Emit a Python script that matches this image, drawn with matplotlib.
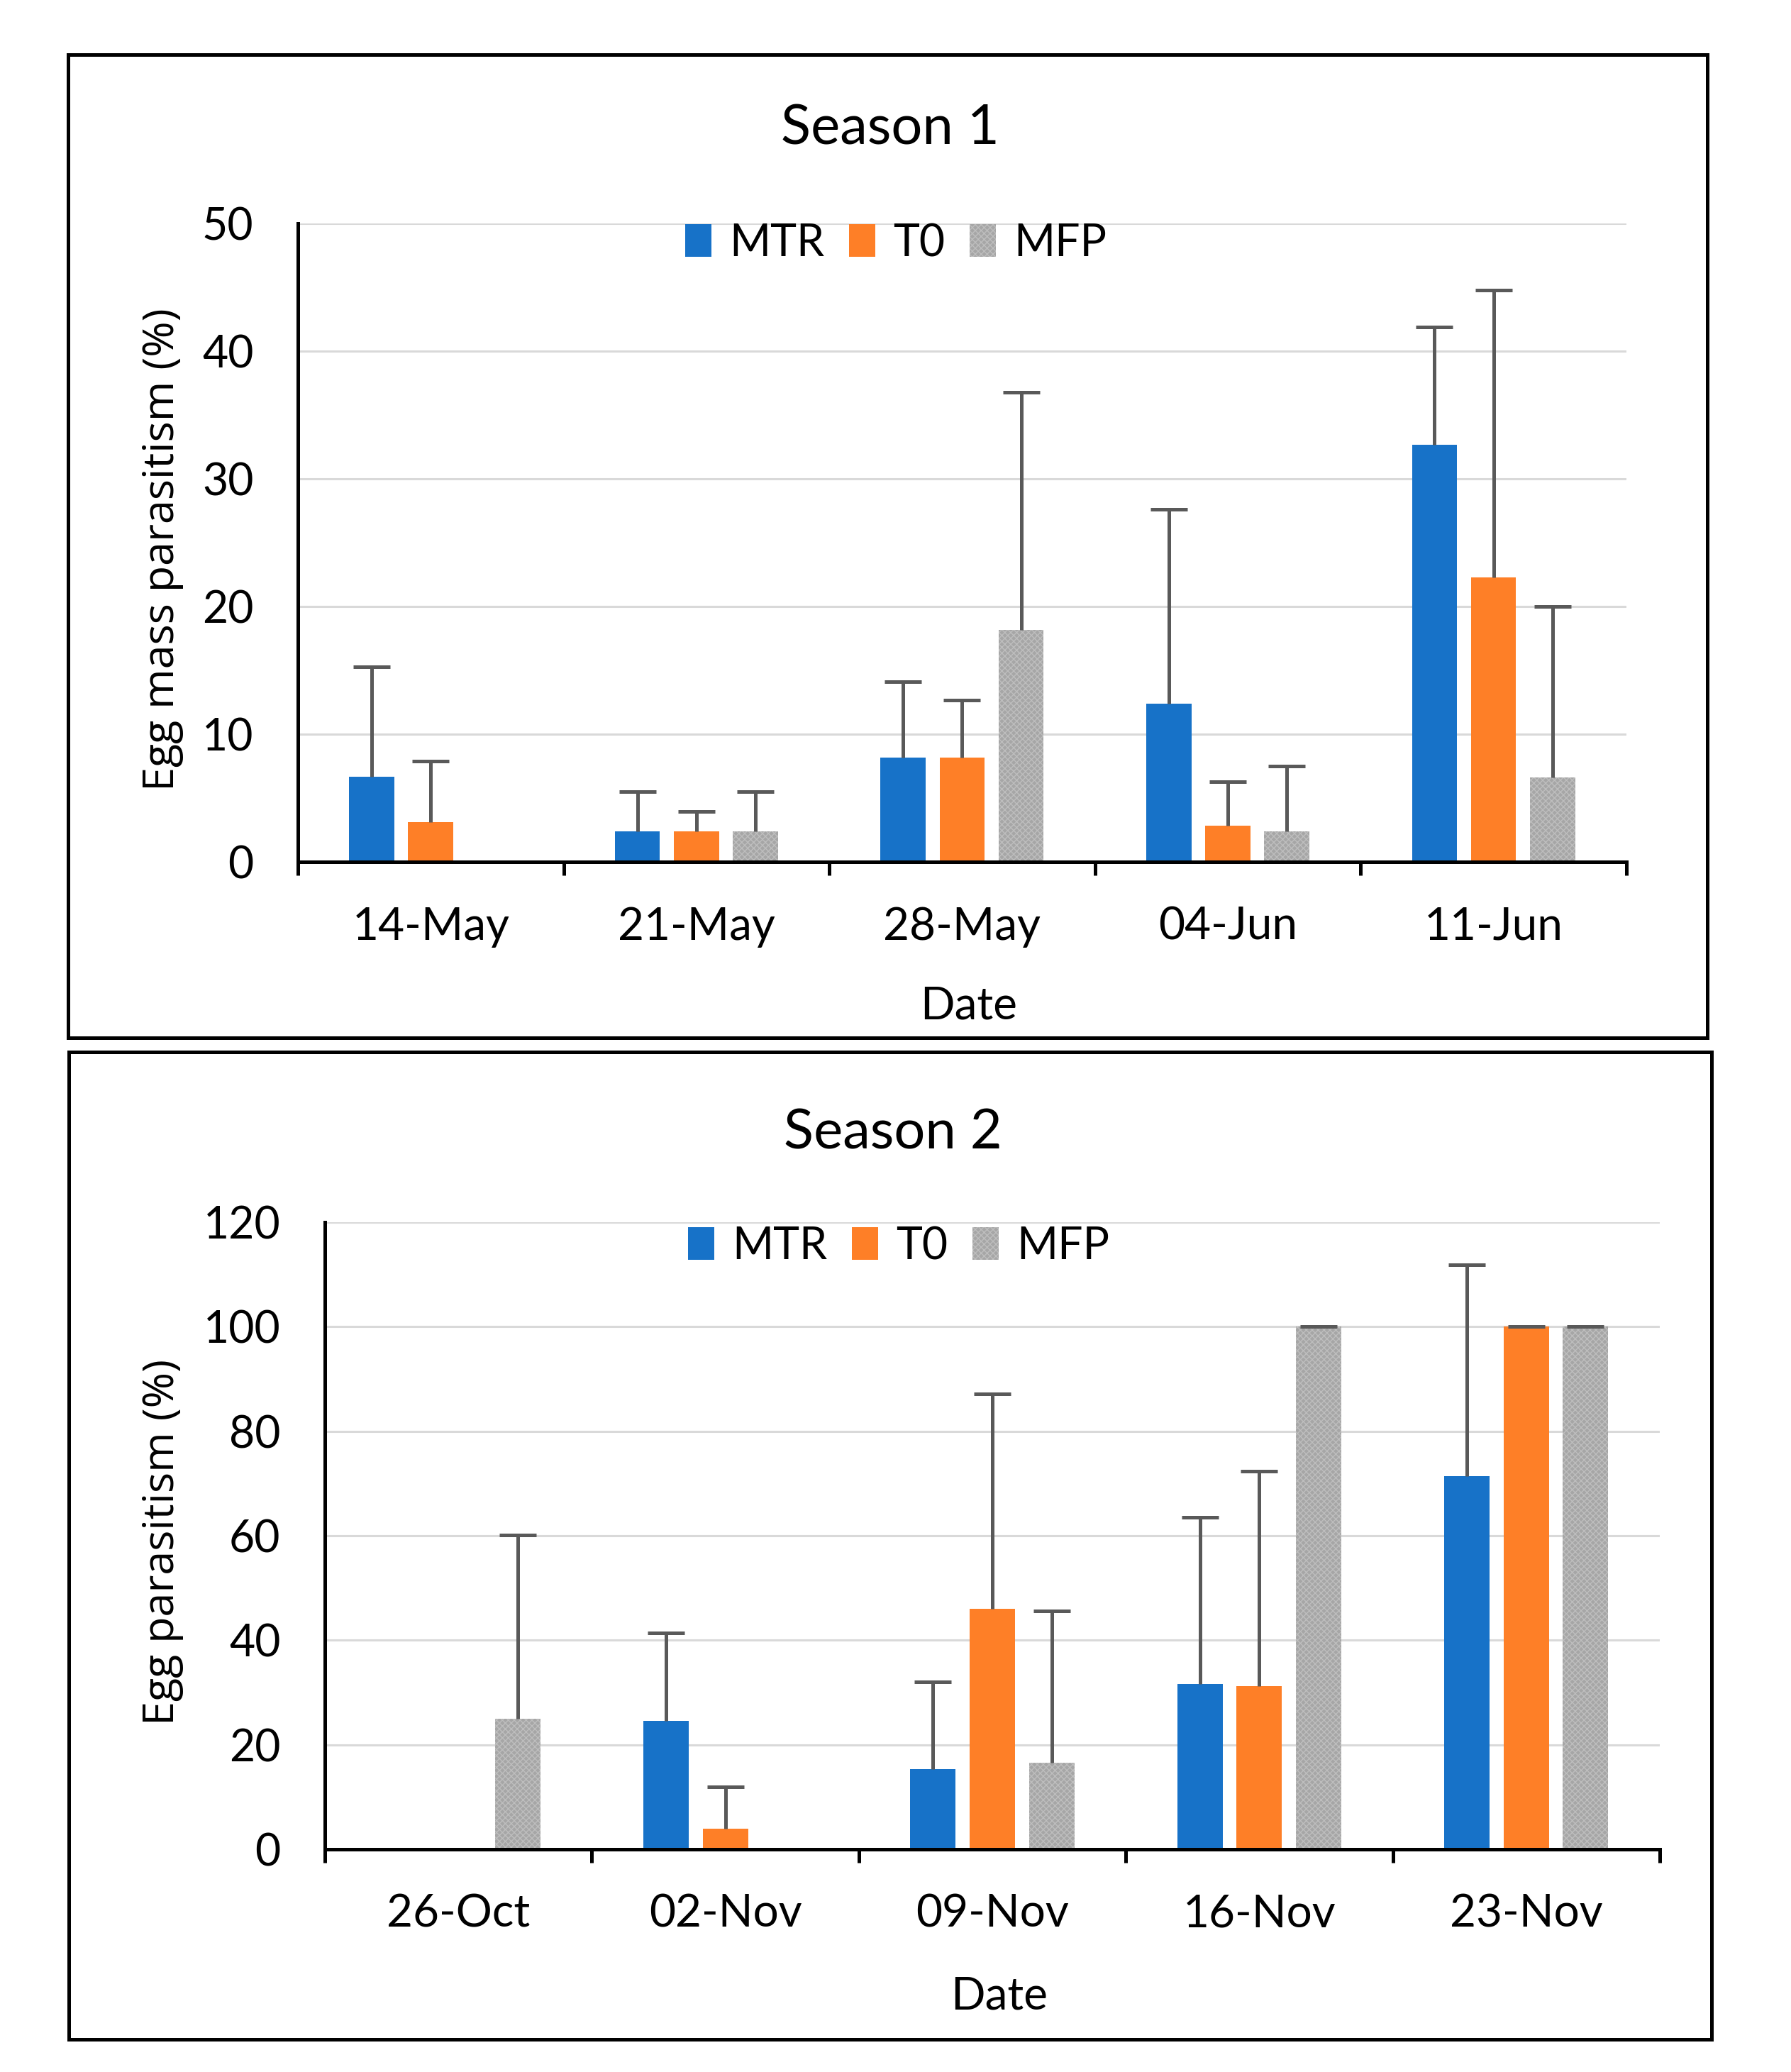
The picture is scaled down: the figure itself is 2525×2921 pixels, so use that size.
import matplotlib
matplotlib.use("Agg")
import matplotlib.pyplot as plt
from matplotlib.patches import Rectangle
import numpy as np

plt.rcParams['font.family'] = ['Lato', 'DejaVu Sans']

# データ
SERIES = ["MTR", "T0", "MFP"]

dates_s1 = ["14-May", "21-May", "28-May", "04-Jun", "11-Jun"]
mtr_s1 = [6.7, 2.4, 8.2, 12.4, 32.7]
t0_s1 = [3.1, 2.4, 8.2, 2.85, 22.3]
mfp_s1 = [0.0, 2.4, 18.2, 2.4, 6.6]
# 誤差棒の上端
mtr_s1_top = [15.3, 5.5, 14.1, 27.6, 41.9]
t0_s1_top = [7.9, 3.95, 12.7, 6.3, 44.8]
mfp_s1_top = [np.nan, 5.5, 36.8, 7.5, 20.0]

dates_s2 = ["26-Oct", "02-Nov", "09-Nov", "16-Nov", "23-Nov"]
mtr_s2 = [0.0, 24.6, 15.4, 31.6, 71.4]
t0_s2 = [0.0, 4.0, 46.0, 31.2, 100.0]
mfp_s2 = [25.0, 0.0, 16.6, 100.0, 100.0]
mtr_s2_top = [np.nan, 41.4, 32.1, 63.5, 111.8]
t0_s2_top = [np.nan, 12.0, 87.1, 72.4, 100.0]
mfp_s2_top = [60.2, np.nan, 45.6, 100.0, 100.0]

COLORS = ["#1772C8", "#FE7F27", "#A6A6A6"]
EDGES = ["none", "none", "#BEBEBE"]
HATCHES = [None, None, "xxxx"]
ERR_COLOR = "#595959"
LW = 3.6


def draw_season(fig, rect, title, title_xy, ylabel, dates, values, tops,
                ymax, ystep, legend_x, legend_y, ylabel_x, xlabel_y):

    ax = fig.add_axes(rect)
    x = np.arange(len(dates))
    width = 0.17
    offsets = [-0.222, 0.0, 0.222]

    handles = []
    for i, name in enumerate(SERIES):
        vals = np.array(values[i], dtype=float)
        top = np.array(tops[i], dtype=float)
        shown = np.where(vals > 0, vals, np.nan)
        bars = ax.bar(x + offsets[i], shown, width, color=COLORS[i],
                      edgecolor=EDGES[i], hatch=HATCHES[i], linewidth=0,
                      label=name, zorder=2)
        handles.append(bars)
        err = np.vstack([np.zeros_like(vals), top - vals])
        eb = ax.errorbar(x + offsets[i], vals, yerr=err, fmt='none',
                         ecolor=ERR_COLOR, elinewidth=LW, capsize=19,
                         capthick=LW, zorder=3)
        # 下側のキャップは消す
        eb[1][0].set_visible(False)

    ax.set_xlim(-0.5, len(dates) - 0.5)
    ax.set_ylim(0, ymax)
    ax.set_yticks(np.arange(0, ymax + 1, ystep))
    ax.set_xticks(x)
    ax.set_xticklabels(dates)
    ax.set_xticks(np.arange(-0.5, len(dates), 1.0), minor=True)

    ax.tick_params(axis='x', which='major', length=0, pad=45, labelsize=46)
    ax.tick_params(axis='x', which='minor', length=14, width=LW,
                   direction='out', color='black')
    ax.tick_params(axis='y', length=0, pad=45, labelsize=45)

    for side in ['top', 'right']:
        ax.spines[side].set_visible(False)
    for side in ['left', 'bottom']:
        ax.spines[side].set_linewidth(LW)
        ax.spines[side].set_color('black')

    ax.yaxis.grid(True, color='#D9D9D9', linewidth=2.2)
    ax.set_axisbelow(True)

    ax.set_ylabel(ylabel, fontsize=44, family=['Open Sans', 'DejaVu Sans'],
                  va='center')
    ax.yaxis.set_label_coords(ylabel_x, 0.49)
    ax.set_xlabel("Date", fontsize=46, va='center')
    ax.xaxis.set_label_coords(0.505, xlabel_y)

    ax.legend(handles=handles, loc='center',
              bbox_to_anchor=(legend_x, legend_y), ncol=3, frameon=False,
              fontsize=45, handlelength=0.6, handleheight=0.75,
              handletextpad=0.4, columnspacing=0.55, borderpad=0)

    fig.text(title_xy[0], title_xy[1], title, fontsize=56,
             ha='center', va='center')

    return ax


def main():

    fig = plt.figure(figsize=(25.25, 29.21), dpi=100)

    # 枠線
    fig.add_artist(Rectangle((0.0380, 0.4991), 0.9153, 0.4745,
                             transform=fig.transFigure, fill=False,
                             edgecolor='black', linewidth=LW))
    fig.add_artist(Rectangle((0.0384, 0.01575), 0.9172, 0.4766,
                             transform=fig.transFigure, fill=False,
                             edgecolor='black', linewidth=LW))

    draw_season(fig, [0.1663, 0.5840, 0.7418, 0.3081], "Season 1",
                (0.497, 0.9377), "Egg mass parasitism (%)", dates_s1,
                [mtr_s1, t0_s1, mfp_s1], [mtr_s1_top, t0_s1_top, mfp_s1_top],
                50, 10, 0.45, 0.969, -0.102, -0.2256)

    draw_season(fig, [0.1814, 0.1075, 0.7453, 0.3026], "Season 2",
                (0.4985, 0.453), "Egg parasitism (%)", dates_s2,
                [mtr_s2, t0_s2, mfp_s2], [mtr_s2_top, t0_s2_top, mfp_s2_top],
                120, 20, 0.43, 0.9615, -0.1217, -0.235)

    fig.savefig("out.png", dpi=100)


if __name__ == "__main__":
    main()
